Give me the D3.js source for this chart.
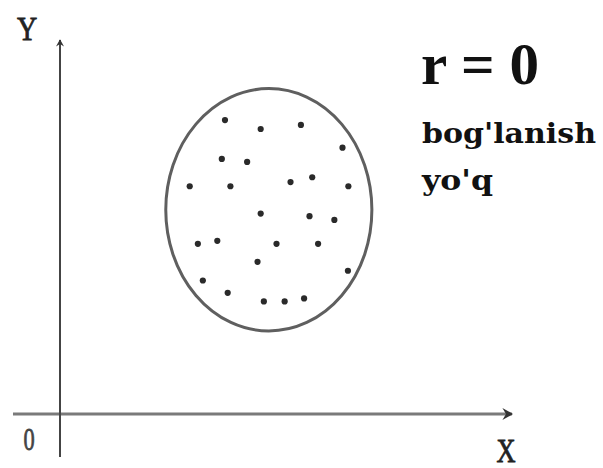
<!DOCTYPE html>
<html>
<head>
<meta charset="utf-8">
<script src="https://cdn.jsdelivr.net/npm/d3@7"></script>
<style>
  html, body { margin: 0; padding: 0; background: #fff; }
  svg { display: block; }
</style>
</head>
<body>
<svg id="chart" width="603" height="468"></svg>
<script>
// Scatter of uncorrelated observations (x, y)
const xValues = [3.65, 4.44, 5.33, 6.25, 3.58, 4.14, 2.87, 3.77, 5.10, 5.58, 6.38, 4.44, 5.52,
                 6.07, 3.05, 3.48, 4.79, 5.71, 4.37, 6.37, 3.16, 3.71, 4.51, 4.97, 5.40];
const yValues = [7.86, 7.62, 7.73, 7.12, 6.82, 6.74, 6.09, 6.09, 6.20, 6.33, 6.09, 5.36, 5.29,
                 5.19, 4.55, 4.63, 4.55, 4.55, 4.07, 3.83, 3.57, 3.24, 3.01, 3.01, 3.09];
// Enclosing cloud outline: centre and semi-axes
const cloudCenter = [4.62, 5.46];
const cloudRadii = [2.28, 3.24];
// Texts
const axisLabels = ["X", "Y", "0"];
const titleLines = ["r = 0", "bog'lanish", "yo'q"];

const svg = d3.select("#chart");

const x = d3.scaleLinear().domain([0, 10]).range([60, 512]);
const y = d3.scaleLinear().domain([0, 10]).range([414, 40]);

// Arrow markers
const defs = svg.append("defs");
defs.append("marker")
  .attr("id", "arrow")
  .attr("viewBox", "0 0 10 10")
  .attr("refX", 9).attr("refY", 5)
  .attr("markerWidth", 4).attr("markerHeight", 4)
  .attr("markerUnits", "strokeWidth")
  .attr("orient", "auto")
  .append("path")
  .attr("d", "M1,0 L10,5 L1,10 L4,5 Z")
  .attr("fill", "#333");

// X axis (extends a little left of origin)
svg.append("line")
  .attr("x1", x(-1.04)).attr("y1", y(0))
  .attr("x2", x(10)).attr("y2", y(0))
  .attr("stroke", "#7a7a7a").attr("stroke-width", 3)
  .attr("marker-end", "url(#arrow)");

// Y axis (extends a little below origin)
svg.append("line")
  .attr("x1", x(0)).attr("y1", y(-1.15))
  .attr("x2", x(0)).attr("y2", y(10))
  .attr("stroke", "#444").attr("stroke-width", 2)
  .attr("marker-end", "url(#arrow)");

// Axis labels
function scaledLabel(text, cx, baseline, size, sx, color) {
  svg.append("text")
    .attr("x", 0).attr("y", 0)
    .attr("text-anchor", "middle")
    .attr("font-family", "Liberation Serif, serif")
    .attr("font-size", size)
    .attr("fill", color)
    .attr("stroke", color)
    .attr("stroke-width", 0.8)
    .attr("transform", `translate(${cx},${baseline}) scale(${sx},1)`)
    .text(text);
}
scaledLabel(axisLabels[0], 506, 462, 33, 0.8, "#222");
scaledLabel(axisLabels[1], 27, 40, 33, 0.85, "#222");
scaledLabel(axisLabels[2], 29, 450, 32, 0.7, "#444");

// Cloud outline
svg.append("ellipse")
  .attr("cx", x(cloudCenter[0])).attr("cy", y(cloudCenter[1]))
  .attr("rx", x(cloudCenter[0] + cloudRadii[0]) - x(cloudCenter[0]))
  .attr("ry", y(cloudCenter[1]) - y(cloudCenter[1] + cloudRadii[1]))
  .attr("fill", "none")
  .attr("stroke", "#5f5f5f")
  .attr("stroke-width", 3);

// Points
svg.append("g")
  .selectAll("circle")
  .data(xValues.map((v, i) => [v, yValues[i]]))
  .join("circle")
  .attr("cx", d => x(d[0]))
  .attr("cy", d => y(d[1]))
  .attr("r", 3.1)
  .attr("fill", "#2a2a2a");

// Annotation
svg.append("text")
  .attr("x", 421).attr("y", 84)
  .attr("font-family", "Liberation Serif, serif")
  .attr("font-weight", "bold")
  .attr("font-size", 60)
  .attr("textLength", 118)
  .attr("lengthAdjust", "spacingAndGlyphs")
  .attr("fill", "#111")
  .text(titleLines[0]);

svg.append("text")
  .attr("x", 422).attr("y", 143)
  .attr("font-family", "DejaVu Serif, serif")
  .attr("font-weight", "bold")
  .attr("font-size", 28.5)
  .attr("textLength", 174)
  .attr("lengthAdjust", "spacingAndGlyphs")
  .attr("fill", "#111")
  .text(titleLines[1]);

svg.append("text")
  .attr("x", 422).attr("y", 190)
  .attr("font-family", "DejaVu Serif, serif")
  .attr("font-weight", "bold")
  .attr("font-size", 28.5)
  .attr("textLength", 71)
  .attr("lengthAdjust", "spacingAndGlyphs")
  .attr("fill", "#111")
  .text(titleLines[2]);
</script>
</body>
</html>
